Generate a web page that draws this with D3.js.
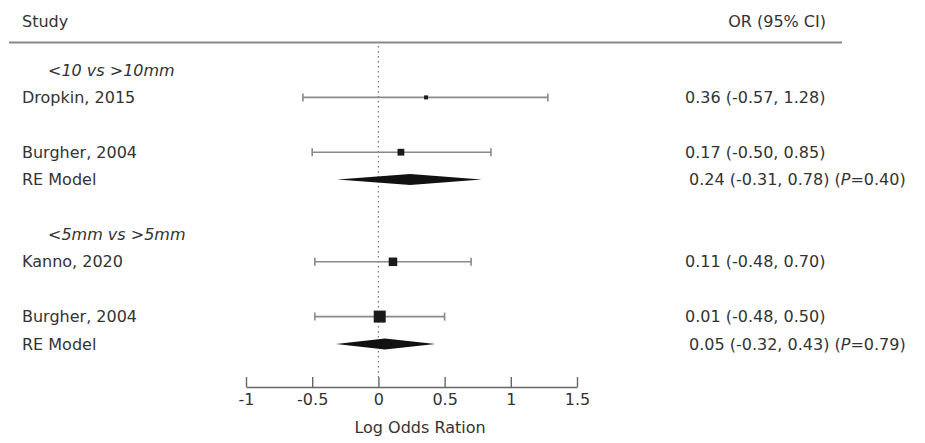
<!DOCTYPE html>
<html><head><meta charset="utf-8">
<script src="https://cdn.jsdelivr.net/npm/d3@7"></script>
<style>body{margin:0;background:#fff}svg{display:block}</style>
</head><body>
<svg id="c" width="925" height="443"></svg>
<script>
// ---- data ----
const groupLabels = ["<10 vs >10mm", "<5mm vs >5mm"];
const studies = ["Dropkin, 2015", "Burgher, 2004", "Kanno, 2020", "Burgher, 2004"];
const studyGroup = [0, 0, 1, 1];
const estimates = [0.36, 0.17, 0.11, 0.01];
const lower = [-0.57, -0.50, -0.48, -0.48];
const upper = [1.28, 0.85, 0.70, 0.50];
const weights = [4.48, 8.47, 11.0, 16.0];
const reEst = [0.24, 0.05];
const reLower = [-0.31, -0.32];
const reUpper = [0.78, 0.43];
const reP = ["0.40", "0.79"];
const xTicks = [-1, -0.5, 0, 0.5, 1, 1.5];
const xTickLabels = ["-1", "-0.5", "0", "0.5", "1", "1.5"];
// row index (from bottom) of each line
const groupRows = [11, 5];
const studyRows = [10, 8, 4, 2];
const reRows = [7, 1];

const svg = d3.select("#c");
const font = "DejaVu Sans, sans-serif";
const fs = 16;
const txt = "#333";

const x = d3.scaleLinear().domain([-1, 1.5]).range([246, 577]);
const y = d3.scaleLinear().domain([1, 11]).range([344, 70]);
const sz = d3.scaleLinear().domain(d3.extent(weights)).range([4, 12]);
const f2 = d3.format(".2f");
const fmt = v => f2(v).replace("\u2212", "-");

// header
svg.append("text").attr("x", 22).attr("y", 27).text("Study")
  .attr("font-family", font).attr("font-size", fs).attr("fill", txt);
svg.append("text").attr("x", 826).attr("y", 27).attr("text-anchor", "end").text("OR (95% CI)")
  .attr("font-family", font).attr("font-size", fs).attr("fill", txt);
svg.append("line").attr("x1", 9).attr("x2", 842).attr("y1", 42.5).attr("y2", 42.5)
  .attr("stroke", "#888").attr("stroke-width", 2);

// reference line at 0
svg.append("line").attr("x1", x(0)).attr("x2", x(0)).attr("y1", 46).attr("y2", 377)
  .attr("stroke", "#777").attr("stroke-width", 1.2).attr("stroke-dasharray", "1.5,3.5");

// group labels
svg.selectAll("text.grp").data(groupLabels).join("text").attr("class", "grp")
  .attr("x", 48).attr("y", (d, i) => y(groupRows[i])).attr("dy", "0.35em")
  .attr("font-family", font).attr("font-size", fs).attr("font-style", "italic").attr("fill", txt)
  .text(d => d);

// study labels
svg.selectAll("text.st").data(studies).join("text").attr("class", "st")
  .attr("x", 22).attr("y", (d, i) => y(studyRows[i])).attr("dy", "0.35em")
  .attr("font-family", font).attr("font-size", fs).attr("fill", txt).text(d => d);

// CI lines
const g = svg.append("g").attr("stroke", "#8a8a8a").attr("stroke-width", 1.6);
studies.forEach((s, i) => {
  const yy = y(studyRows[i]);
  g.append("line").attr("x1", x(lower[i])).attr("x2", x(upper[i])).attr("y1", yy).attr("y2", yy);
  [lower[i], upper[i]].forEach(v => g.append("line").attr("x1", x(v)).attr("x2", x(v))
    .attr("y1", yy - 4).attr("y2", yy + 4));
});
// squares
svg.selectAll("rect.sq").data(estimates).join("rect").attr("class", "sq")
  .attr("x", (d, i) => x(d) - sz(weights[i]) / 2)
  .attr("y", (d, i) => y(studyRows[i]) - sz(weights[i]) / 2)
  .attr("width", (d, i) => sz(weights[i])).attr("height", (d, i) => sz(weights[i]))
  .attr("fill", "#1a1a1a");

// study CI text
svg.selectAll("text.ci").data(estimates).join("text").attr("class", "ci")
  .attr("x", 685).attr("y", (d, i) => y(studyRows[i])).attr("dy", "0.35em")
  .attr("font-family", font).attr("font-size", fs).attr("fill", txt)
  .text((d, i) => `${fmt(d)} (${fmt(lower[i])}, ${fmt(upper[i])})`);

// RE models
reEst.forEach((e, i) => {
  const yy = y(reRows[i]);
  svg.append("text").attr("x", 22).attr("y", yy).attr("dy", "0.35em")
    .attr("font-family", font).attr("font-size", fs).attr("fill", txt).text("RE Model");
  svg.append("path").attr("d", d3.line()([[x(reLower[i]), yy], [x(e), yy - 5.5], [x(reUpper[i]), yy], [x(e), yy + 5.5]]) + "Z")
    .attr("fill", "#111");
  const t = svg.append("text").attr("x", 689).attr("y", yy).attr("dy", "0.35em")
    .attr("font-family", font).attr("font-size", fs).attr("fill", txt);
  t.append("tspan").text(`${fmt(e)} (${fmt(reLower[i])}, ${fmt(reUpper[i])}) (`);
  t.append("tspan").attr("font-style", "italic").text("P");
  t.append("tspan").text(`=${reP[i]})`);
});

// axis
const ax = svg.append("g").attr("transform", "translate(0,387)")
  .call(d3.axisBottom(x).tickValues(xTicks).tickFormat((d, i) => xTickLabels[i])
    .tickSize(-10).tickSizeOuter(0).tickPadding(7));
ax.select(".domain").attr("stroke", "#666").attr("stroke-width", 1.4);
ax.selectAll(".tick line").attr("stroke", "#666").attr("stroke-width", 1.4);
ax.selectAll(".tick text").attr("font-family", font).attr("font-size", fs).attr("fill", txt);
svg.append("text").attr("x", 420).attr("y", 427).attr("dy", "0.35em").attr("text-anchor", "middle")
  .attr("font-family", font).attr("font-size", fs).attr("fill", txt).text("Log Odds Ration");
</script>
</body></html>
